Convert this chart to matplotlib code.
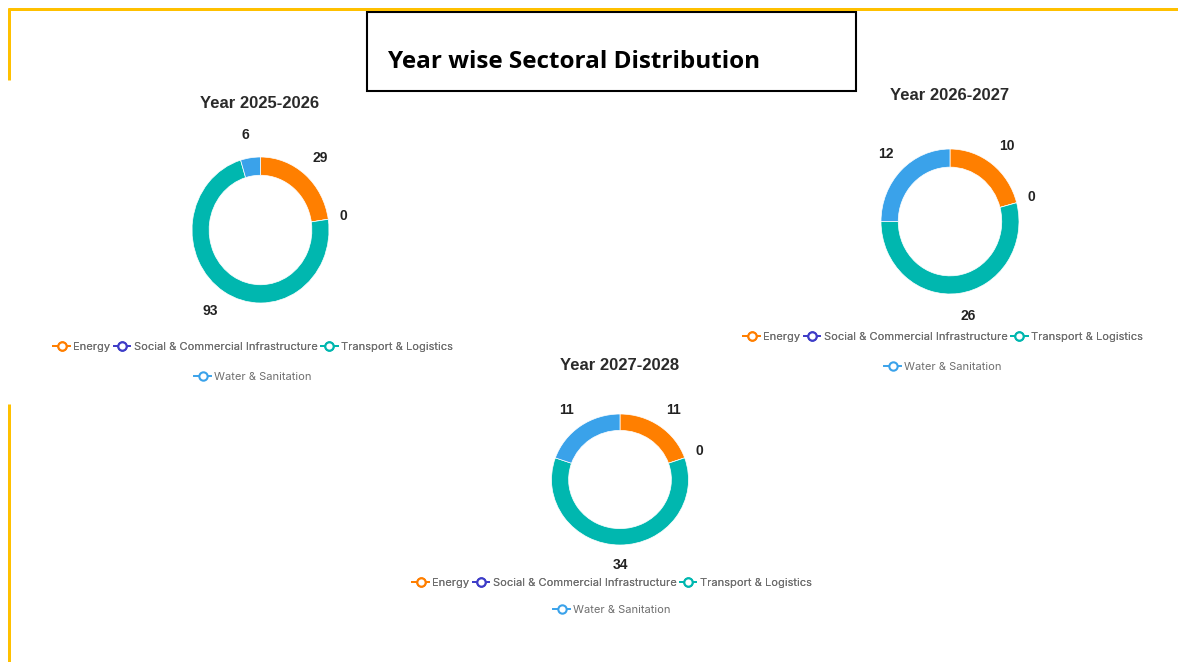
import matplotlib
matplotlib.use("Agg")
import matplotlib.pyplot as plt
from matplotlib.lines import Line2D
from matplotlib.patches import Rectangle
import numpy as np

# ---------------- data ----------------
sectors = ["Energy", "Social & Commercial Infrastructure", "Transport & Logistics", "Water & Sanitation"]
years = ["Year 2025-2026", "Year 2026-2027", "Year 2027-2028"]
values_2025_26 = [29, 0, 93, 6]
values_2026_27 = [10, 0, 26, 12]
values_2027_28 = [11, 0, 34, 11]
main_title = "Year wise Sectoral Distribution"

colors = ["#FF7F00", "#3D3DC8", "#00B7AF", "#3AA2EA"]

W, H = 1178, 662
fig = plt.figure(figsize=(W / 100, H / 100), dpi=100)
fig.patch.set_facecolor("white")


def fx(px):
    return px / W


def fy(py):
    return 1 - py / H


# decorative yellow border lines
yel = "#FFC000"
lw_y = 3 * 72 / 100
fig.add_artist(Line2D([fx(8), fx(1178)], [fy(9), fy(9)], color=yel, lw=lw_y, transform=fig.transFigure,
                      solid_capstyle="butt"))
fig.add_artist(Line2D([fx(9), fx(9)], [fy(8), fy(80)], color=yel, lw=lw_y, transform=fig.transFigure,
                      solid_capstyle="butt"))
fig.add_artist(Line2D([fx(9), fx(9)], [fy(404), fy(662)], color=yel, lw=lw_y, transform=fig.transFigure,
                      solid_capstyle="butt"))

# title box
fig.add_artist(Rectangle((fx(367), fy(91)), (856 - 367) / W, (91 - 12) / H, fill=False,
                         edgecolor="black", lw=1.5, transform=fig.transFigure))
fig.text(fx(388), fy(62), main_title, fontsize=17.5, fontweight="bold", family=["Open Sans", "DejaVu Sans"],
         ha="left", va="center", color="black")

charts = [
    dict(vals=values_2025_26, title=years[0], c=(260.5, 230), r=(68.5, 73), t=(260, 103), lg=(253, 347, 377)),
    dict(vals=values_2026_27, title=years[1], c=(950, 221.5), r=(69, 72.5), t=(950, 95), lg=(943, 337, 367)),
    dict(vals=values_2027_28, title=years[2], c=(620, 479.5), r=(68.5, 65.5), t=(620, 365), lg=(612, 583, 610)),
]

S = 300
for ch in charts:
    cx, cy = ch["c"]
    rx, ry = ch["r"]
    ax = fig.add_axes([fx(cx - S / 2), fy(cy + S / 2), S / W, S / H])
    vals = np.array(ch["vals"], dtype=float)
    ax.pie(vals, colors=colors, startangle=90, counterclock=False, radius=1,
           wedgeprops=dict(width=0.25, edgecolor="white", linewidth=0.5))
    ax.set_aspect("auto")
    ax.set_xlim(-S / 2 / rx, S / 2 / rx)
    ax.set_ylim(-S / 2 / ry, S / 2 / ry)
    ax.axis("off")
    total = vals.sum()
    cum = np.cumsum(vals)
    for v, cm in zip(vals, cum):
        ang = np.deg2rad(90 - 360 * (cm - v / 2) / total)
        cx_, sy_ = np.cos(ang), np.sin(ang)
        ha = "left" if cx_ > 0.02 else ("right" if cx_ < -0.02 else "center")
        ax.text(1.16 * cx_, 1.31 * sy_, f"{int(v)}", ha=ha, va="center", fontsize=10,
                fontweight="bold", color="#222222", family=["Liberation Sans", "DejaVu Sans"])

    fig.text(fx(ch["t"][0]), fy(ch["t"][1]), ch["title"], ha="center", va="center", fontsize=12,
             fontweight="bold", color="#2a2a2a", family=["Liberation Sans", "DejaVu Sans"])

    handles = [Line2D([], [], color=c, marker="o", markerfacecolor="white", markersize=6,
                      markeredgewidth=1.5, lw=1.4) for c in colors]
    lx, ly1, ly2 = ch["lg"]
    leg1 = fig.legend(handles[:3], sectors[:3], ncol=3, loc="center", bbox_to_anchor=(fx(lx), fy(ly1)),
                      frameon=False, handlelength=1.5, handletextpad=0.3, columnspacing=0.3,
                      prop=dict(family=["Inter", "DejaVu Sans"], size=8), labelcolor="#6e6e6e",
                      borderpad=0, borderaxespad=0)
    leg2 = fig.legend(handles[3:], sectors[3:], ncol=1, loc="center", bbox_to_anchor=(fx(lx), fy(ly2)),
                      frameon=False, handlelength=1.5, handletextpad=0.3,
                      prop=dict(family=["Inter", "DejaVu Sans"], size=8), labelcolor="#6e6e6e",
                      borderpad=0, borderaxespad=0)
    fig.add_artist(leg1)

fig.savefig("out.png", dpi=100, facecolor="white")
